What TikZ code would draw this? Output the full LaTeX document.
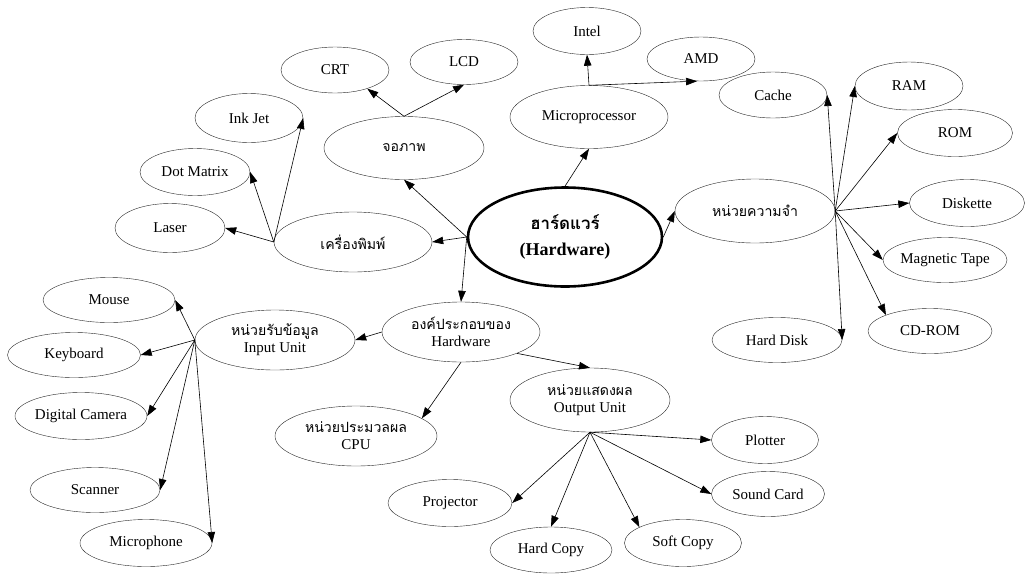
\documentclass[tikz,border=0pt]{standalone}
\usepackage{fontspec}
\setmainfont{Liberation Serif}
\newfontfamily\thaifont[Script=Thai,Scale=0.94]{Loma}
\usetikzlibrary{arrows.meta,shapes.geometric}

\begin{document}
\begin{tikzpicture}[x=1pt,y=-1pt,
  leaf/.style={draw=black!85,ellipse,inner sep=-3pt,minimum width=108pt,minimum height=47pt,
    font=\fontsize{15}{17}\selectfont},
  hub/.style={leaf,minimum width=160pt,minimum height=62pt,align=center},
  root/.style={draw,ellipse,line width=2.6pt,inner sep=0pt,minimum width=194pt,minimum height=99pt,
    align=center,font=\bfseries\fontsize{18}{26}\selectfont},
  arr/.style={-{Triangle[length=11pt,width=7.5pt]},black,line width=0.6pt}]
  \useasboundingbox (0,0) rectangle (1025,574);
  % centre
  \node[root] (hw) at (565,237) {{\thaifont ฮาร์ดแวร์}\\(Hardware)};
  % display
  \node[hub,minimum height=63pt] (screen) at (404,148) {\thaifont จอภาพ};
  \node[leaf,minimum height=46pt] (crt) at (335,70) {CRT};
  \node[leaf,minimum height=45pt] (lcd) at (464,62) {LCD};
  % processor
  \node[hub,minimum width=158pt,minimum height=63pt] (micro) at (589,117) {Microprocessor};
  \node[leaf] (intel) at (587,31) {Intel};
  \node[leaf,minimum height=44pt] (amd) at (701,59) {AMD};
  % memory
  \node[hub,minimum height=64pt] (mem) at (755,211) {\thaifont หน่วยความจำ};
  \node[leaf,minimum height=46pt] (cache) at (773,95) {Cache};
  \node[leaf,minimum height=48pt] (ram) at (909,86) {RAM};
  \node[leaf,minimum width=115pt] (rom) at (955,133) {ROM};
  \node[leaf,minimum width=115pt] (disk) at (967,203) {Diskette};
  \node[leaf,minimum width=124pt,minimum height=45pt] (tape) at (945,260) {Magnetic Tape};
  \node[leaf,minimum width=124pt,minimum height=45pt] (cdrom) at (930,331) {CD-ROM};
  \node[leaf,minimum width=130pt,minimum height=45pt] (hdisk) at (777,340) {Hard Disk};
  % printer
  \node[hub,minimum width=158pt,minimum height=60pt] (printer) at (353,242) {\thaifont เครื่องพิมพ์};
  \node[leaf,minimum width=110pt,minimum height=49pt] (laser) at (170,228) {Laser};
  \node[leaf,minimum width=110pt] (dotm) at (195,172) {Dot Matrix};
  \node[leaf,minimum height=49pt] (inkjet) at (249,118) {Ink Jet};
  % components
  \node[hub,minimum width=158pt,minimum height=60pt] (parts) at (461,332) {{\thaifont องค์ประกอบของ}\\Hardware};
  \node[hub,minimum height=60pt] (input) at (275,340) {{\thaifont หน่วยรับข้อมูล}\\Input Unit};
  \node[hub,minimum width=162pt,minimum height=60pt] (cpu) at (356,436) {{\thaifont หน่วยประมวลผล}\\CPU};
  \node[hub,minimum height=64pt] (output) at (590,400) {{\thaifont หน่วยแสดงผล}\\Output Unit};
  % input devices
  \node[leaf,minimum width=132pt,minimum height=45pt] (mouse) at (109,300) {Mouse};
  \node[leaf,minimum width=133pt,minimum height=45pt] (keyb) at (74,355) {Keyboard};
  \node[leaf,minimum width=132pt] (camera) at (81,416) {Digital Camera};
  \node[leaf,minimum width=130pt,minimum height=45pt] (scanner) at (95,490) {Scanner};
  \node[leaf,minimum width=132pt] (mic) at (146,543) {Microphone};
  % output devices
  \node[leaf,minimum width=107pt] (plotter) at (765,440) {Plotter};
  \node[leaf,minimum width=113pt,minimum height=45pt] (sound) at (768,494) {Sound Card};
  \node[leaf,minimum width=117pt] (soft) at (683,543) {Soft Copy};
  \node[leaf,minimum width=122pt,minimum height=46pt] (hcopy) at (551,550) {Hard Copy};
  \node[leaf,minimum width=124pt] (proj) at (450,503) {Projector};
  % connectors
  \draw[arr] (hw.west) -- (screen.south);
  \draw[arr] (hw.west) -- (printer.east);
  \draw[arr] (hw.west) -- (parts.north);
  \draw[arr] (hw.north) -- (micro.south);
  \draw[arr] (hw.east) -- (mem.west);
  \draw[arr] (screen.north) -- (crt.-30);
  \draw[arr] (screen.north) -- (lcd.south);
  \draw[arr] (micro.north) -- (intel.south);
  \draw[arr] (micro.north) -- (amd.-100);
  \draw[arr] (mem.east) -- (cache.east);
  \draw[arr] (mem.east) -- (ram.west);
  \draw[arr] (mem.east) -- (rom.west);
  \draw[arr] (mem.east) -- (disk.west);
  \draw[arr] (mem.east) -- (tape.west);
  \draw[arr] (mem.east) -- (cdrom.160);
  \draw[arr] (mem.east) -- (hdisk.east);
  \draw[arr] (printer.west) -- (laser.east);
  \draw[arr] (printer.west) -- (dotm.east);
  \draw[arr] (printer.west) -- (inkjet.east);
  \draw[arr] (parts.west) -- (input.east);
  \draw[arr] (parts.south) -- (cpu.15);
  \draw[arr] (parts.south east) -- (output.north);
  \draw[arr] (input.west) -- (mouse.east);
  \draw[arr] (input.west) -- (keyb.east);
  \draw[arr] (input.west) -- (camera.east);
  \draw[arr] (input.west) -- (scanner.east);
  \draw[arr] (input.west) -- (mic.east);
  \draw[arr] (output.south) -- (plotter.west);
  \draw[arr] (output.south) -- (sound.west);
  \draw[arr] (output.south) -- (soft.160);
  \draw[arr] (output.south) -- (hcopy.north);
  \draw[arr] (output.south) -- (proj.east);
\end{tikzpicture}
\end{document}
